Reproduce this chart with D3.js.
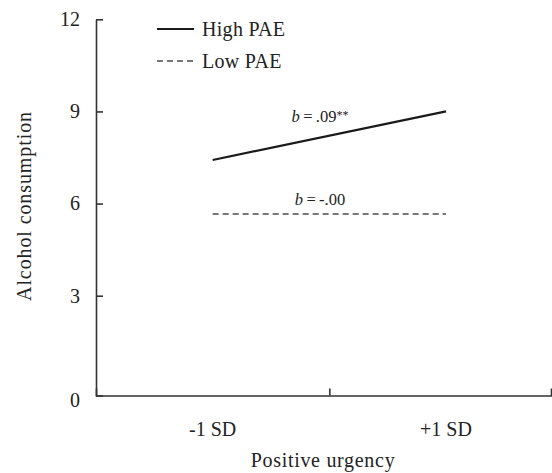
<!DOCTYPE html>
<html>
<head>
<meta charset="utf-8">
<script src="https://cdn.jsdelivr.net/npm/d3@7"></script>
<style>
  body { margin: 0; background: #fff; }
  svg text { font-family: 'Liberation Serif', 'Times New Roman', serif; fill: #222; }
</style>
</head>
<body>
<svg></svg>
<script>
// Data: simple slopes of positive urgency at high / low PAE
const groups = ["-1 SD", "+1 SD"];
const groupPos = [-1, 1];
const highPAE = [7.42, 9.0];
const lowPAE = [5.66, 5.66];
const yTicks = [0, 3, 6, 9, 12];
const slopeLabels = [".09**", "-.00"];

const W = 552, H = 473;
const svg = d3.select("svg").attr("width", W).attr("height", H);

// X: continuous so the middle tick sits between the two SD points
const x = d3.scaleLinear().domain([-2, 1.9]).range([96, 551]);
// Y: 0 sits a bit lower than the regular 3-unit spacing
const y = d3.scaleLinear().domain([0, 3, 12]).range([395.5, 295.7, 19.3]);

// Y axis, ticks pointing inward
const yAxis = svg.append("g")
    .attr("transform", `translate(${x(-2)},0)`)
    .call(d3.axisLeft(y).tickValues(yTicks).tickSize(-7).tickSizeOuter(0).tickPadding(16));
yAxis.selectAll("text").style("font-size", "20px");
// the zero label sits a little under the corner
yAxis.selectAll(".tick text").filter(d => d === 0).attr("dy", "0.55em");

// X axis: one middle tick, end tick up
svg.append("g")
    .attr("transform", `translate(0,${y(0)})`)
    .call(d3.axisBottom(x).tickValues([0]).tickFormat("").tickSize(-7).tickSizeOuter(-7));

svg.selectAll(".domain, .tick line").attr("stroke", "#333").attr("stroke-width", 1.6);

// Category labels under the axis
svg.selectAll(".xlab")
    .data(groups)
    .enter().append("text")
    .attr("class", "xlab")
    .attr("x", (d, i) => x(groupPos[i]))
    .attr("y", 436)
    .attr("text-anchor", "middle")
    .style("font-size", "20px")
    .text(d => d);

// Axis titles
svg.append("text")
    .attr("x", 323).attr("y", 467)
    .attr("text-anchor", "middle")
    .style("font-size", "20px")
    .style("letter-spacing", "0.7px")
    .text("Positive urgency");

svg.append("text")
    .attr("transform", `translate(31,206) rotate(-90)`)
    .attr("text-anchor", "middle")
    .style("font-size", "20px")
    .style("letter-spacing", "0.9px")
    .text("Alcohol consumption");

// Lines
const line = d3.line().x((d, i) => x(groupPos[i])).y(d => y(d));

svg.append("path")
    .datum(highPAE)
    .attr("d", line)
    .attr("fill", "none")
    .attr("stroke", "#1a1a1a")
    .attr("stroke-width", 2.2);

svg.append("path")
    .datum(lowPAE)
    .attr("d", line)
    .attr("fill", "none")
    .attr("stroke", "#777")
    .attr("stroke-width", 2)
    .attr("stroke-dasharray", "6,4");

// Slope annotations
const ann = svg.selectAll(".ann")
    .data(slopeLabels)
    .enter().append("text")
    .attr("class", "ann")
    .attr("x", 320)
    .attr("y", (d, i) => i === 0 ? 122 : 205)
    .attr("text-anchor", "middle")
    .style("font-size", "16.5px");
ann.append("tspan").style("font-style", "italic").text("b");
ann.append("tspan").text(d => "\u2009=\u2009" + d.replace(/\*+/, ""));
ann.filter(d => d.includes("*"))
    .append("tspan")
    .attr("dy", -3)
    .style("font-size", "12px")
    .text(d => d.match(/\*+/)[0]);

// Legend
const legendItems = [
    { name: "High PAE", color: "#1a1a1a", dash: null, w: 2.2 },
    { name: "Low PAE", color: "#777", dash: "6,4", w: 2 }
];
const legend = svg.selectAll(".leg")
    .data(legendItems)
    .enter().append("g")
    .attr("class", "leg")
    .attr("transform", (d, i) => `translate(157,${29 + i * 32})`);
legend.append("line")
    .attr("x1", 0).attr("x2", 37)
    .attr("stroke", d => d.color)
    .attr("stroke-width", d => d.w)
    .attr("stroke-dasharray", d => d.dash);
legend.append("text")
    .attr("x", 45).attr("y", 7)
    .style("font-size", "20px")
    .style("letter-spacing", "0.3px")
    .text(d => d.name);
</script>
</body>
</html>
